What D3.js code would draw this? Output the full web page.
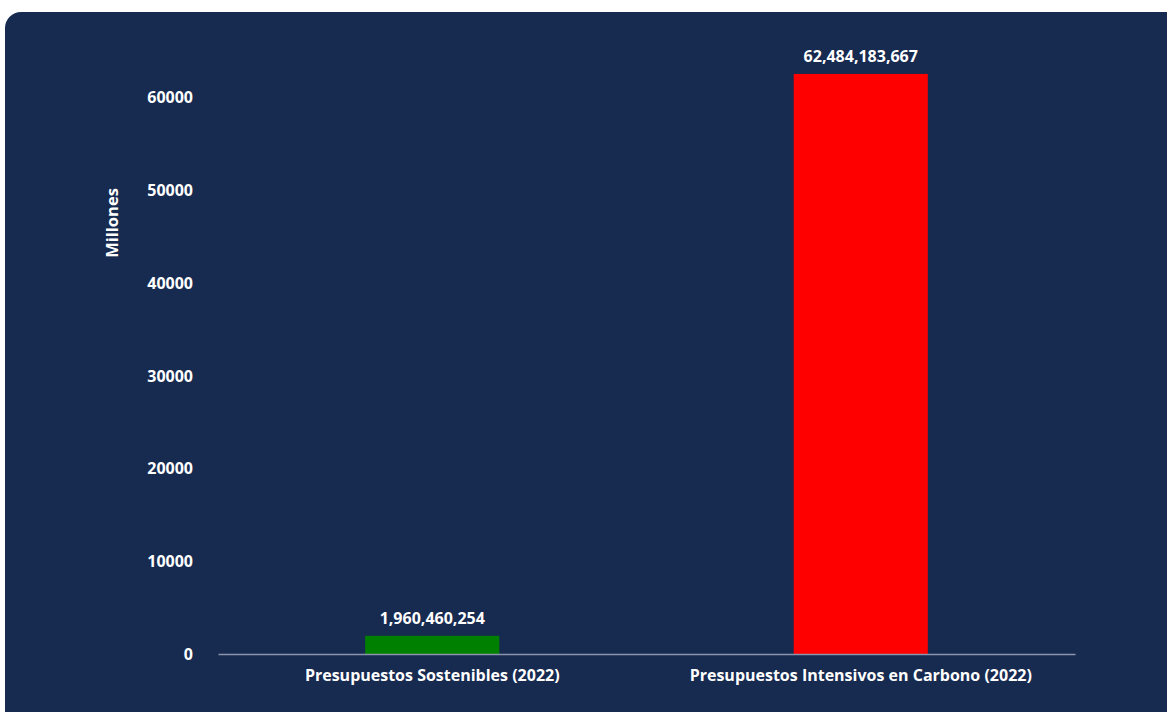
<!DOCTYPE html>
<html>
<head>
<meta charset="utf-8">
<script src="https://cdn.jsdelivr.net/npm/d3@7"></script>
<style>
  html, body { margin: 0; padding: 0; background: #ffffff; }
  svg { display: block; }
  text { font-family: "Open Sans", "Noto Sans", sans-serif; font-weight: 700; }
</style>
</head>
<body>
<svg id="chart" width="1167" height="712"></svg>
<script>
// Budget categories and their amounts (pesos)
const categories = ["Presupuestos Sostenibles (2022)", "Presupuestos Intensivos en Carbono (2022)"];
const amounts = [1960460254, 62484183667];
const barColors = ["#008000", "#ff0000"];
const yTicks = [0, 10000, 20000, 30000, 40000, 50000, 60000];
const yAxisLabel = "Millones";

const svg = d3.select("#chart");
const W = 1167, H = 712;
const FONT = "'Open Sans', 'Noto Sans', sans-serif";

// Navy background panel with rounded corners
svg.append("rect")
  .attr("x", 5).attr("y", 12)
  .attr("width", W + 40).attr("height", H + 10)
  .attr("rx", 16).attr("ry", 16)
  .attr("fill", "#172a50");

const plotLeft = 218, plotRight = 1075;
const y0 = 654;

// values plotted in millions
const millions = amounts.map(v => v / 1e6);

const x = d3.scaleBand()
  .domain(categories)
  .range([plotLeft, plotRight])
  .paddingInner(0.687)
  .paddingOuter(0.3435);

const y = d3.scaleLinear()
  .domain([0, 60000])
  .range([y0, 97]);

// Y axis labels (no axis line)
const yAxis = d3.axisLeft(y).tickValues(yTicks).tickSize(0).tickPadding(0).tickFormat(d3.format("d"));
const gy = svg.append("g")
  .attr("transform", `translate(${plotLeft - 25},0)`)
  .call(yAxis);
gy.select(".domain").remove();
gy.selectAll("text")
  .attr("fill", "#ffffff")
  .attr("font-size", 16)
  .attr("dy", "0.35em")
  .style("font-family", FONT)
  .style("font-weight", 700);

// Y axis title
svg.append("text")
  .attr("transform", `translate(118,223) rotate(-90)`)
  .attr("text-anchor", "middle")
  .attr("fill", "#ffffff")
  .attr("font-size", 16.5)
  .style("font-family", FONT)
  .text(yAxisLabel);

// Bars
svg.append("g").selectAll("rect")
  .data(categories)
  .join("rect")
  .attr("x", d => x(d))
  .attr("width", x.bandwidth())
  .attr("y", (d, i) => y(millions[i]))
  .attr("height", (d, i) => y0 - y(millions[i]))
  .attr("fill", (d, i) => barColors[i]);

// Baseline and category labels
const xAxis = d3.axisBottom(x).tickSize(0).tickPadding(0);
const gx = svg.append("g")
  .attr("transform", `translate(0,${y0})`)
  .call(xAxis);
gx.select(".domain")
  .attr("stroke", "#8a94ab")
  .attr("stroke-width", 1.5);
gx.selectAll("text")
  .attr("fill", "#ffffff")
  .attr("font-size", 16)
  .attr("y", 27)
  .attr("dy", 0)
  .style("font-family", FONT)
  .style("font-weight", 700);

// Value labels above bars
const fmt = d3.format(",");
svg.append("g").selectAll("text")
  .data(categories)
  .join("text")
  .attr("x", d => x(d) + x.bandwidth() / 2)
  .attr("y", (d, i) => y(millions[i]) - 12)
  .attr("text-anchor", "middle")
  .attr("fill", "#ffffff")
  .attr("font-size", 16)
  .style("font-family", FONT)
  .text((d, i) => fmt(amounts[i]));
</script>
</body>
</html>
